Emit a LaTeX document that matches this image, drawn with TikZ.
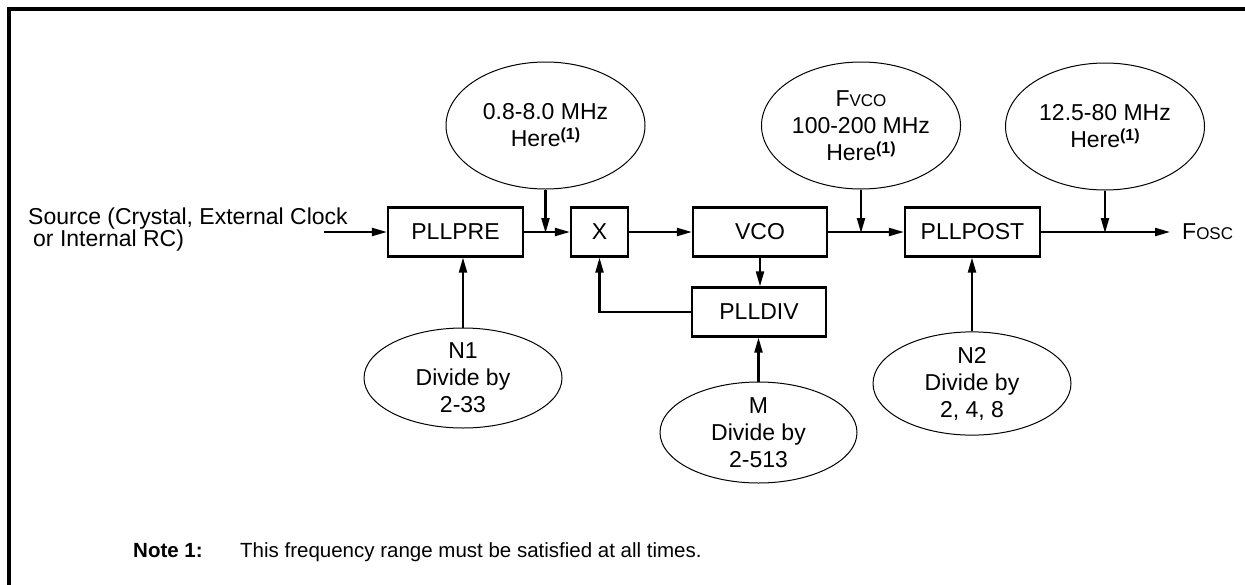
\documentclass[tikz,border=0pt]{standalone}
\usepackage{fontspec}
\setmainfont{Liberation Sans}
\usetikzlibrary{arrows.meta,shapes.geometric}
\newcommand\mainfs{\fontsize{23}{27}\selectfont}
\newcommand\notefs{\fontsize{20.5}{24}\selectfont}
\newcommand\smc[1]{{\fontsize{17}{17}\selectfont #1}}
\newcommand\noteref{\raisebox{7pt}{\fontsize{16}{16}\selectfont\bfseries(1)}}
\begin{document}
\begin{tikzpicture}[x=1pt,y=-1pt,
  box/.style={draw,line width=2.2pt,minimum height=49pt,inner sep=0pt,font=\mainfs},
  oval/.style={draw,ellipse,line width=1pt,inner sep=0pt,align=center,font=\mainfs,minimum width=199pt},
  conn/.style={line width=2.1pt,-{Triangle[length=15pt,width=8pt]}},
  wire/.style={line width=2.1pt},
  lbl/.style={inner sep=0pt,font=\mainfs}]
\useasboundingbox (0,0) rectangle (1245,584);
\clip (0,0) rectangle (1245,584);
% frame
\draw[line width=3.5pt] (9,700) -- (9,9) -- (1400,9);

% boxes
\node[box,minimum width=135pt] (pre)  at (455.5,232) {PLLPRE};
\node[box,minimum width=57pt]  (x)    at (599.5,232) {X};
\node[box,minimum width=134pt] (vco)  at (760,232)   {VCO};
\node[box,minimum width=134pt] (div)  at (759,312)   {PLLDIV};
\node[box,minimum width=135pt] (post) at (972.5,232) {PLLPOST};

% ellipses
\node[oval,minimum height=127pt] (e1) at (545.5,125.5) {0.8-8.0 MHz\\Here\noteref};
\node[oval,minimum height=127pt] (e2) at (861,125.5) {F\smc{VCO}\\100-200 MHz\\Here\noteref};
\node[oval,minimum height=127pt] (e3) at (1105,126.5) {12.5-80 MHz\\Here\noteref};
\node[oval,minimum width=198pt,minimum height=100pt] (n1) at (463,378) {N1\\Divide by\\2-33};
\node[oval,minimum width=197pt,minimum height=101pt] (m)  at (758.5,432.5) {M\\Divide by\\2-513};
\node[oval,minimum width=198pt,minimum height=101pt] (n2) at (972,383.5) {N2\\Divide by\\2, 4, 8};

% texts
\node[lbl,anchor=base west] (src1) at (28,224) {Source (Crystal, External Clock};
\node[lbl,anchor=base west] (src2) at (33,246) {or Internal RC)};
\node[lbl,anchor=west] (fosc) at (1182,232) {F\smc{OSC}};
\coordinate (srcstart) at (324,232);
\coordinate (foscend) at (1170,232);

\node[inner sep=0pt,anchor=base west,font=\notefs\bfseries] (note) at (133,557) {Note 1:};
\node[inner sep=0pt,anchor=base west,font=\notefs] (notetxt) at (240,557) {This frequency range must be satisfied at all times.};

% connectors
\draw[conn] (srcstart) -- (pre.west);
\draw[conn] (pre.east) -- (x.west);
\draw[conn] (x.east) -- (vco.west);
\draw[conn] (vco.east) -- (post.west);
\draw[conn] (post.east) -- (foscend);
\draw[conn] (vco.south) -- (vco.south |- div.north);
\draw[conn] (div.west) -| (x.south);
\draw[conn] (e1.south) -- ([yshift=-1pt]e1.south |- x.west);
\draw[conn] (e2.south) -- ([yshift=-1pt]e2.south |- post.west);
\draw[conn] (e3.south) -- ([yshift=-1pt]e3.south |- post.east);
\draw[conn] (n1.north) -- (n1.north |- pre.south);
\draw[conn] (m.north) -- (m.north |- div.south);
\draw[conn] (n2.north) -- (n2.north |- post.south);
\end{tikzpicture}
\end{document}
